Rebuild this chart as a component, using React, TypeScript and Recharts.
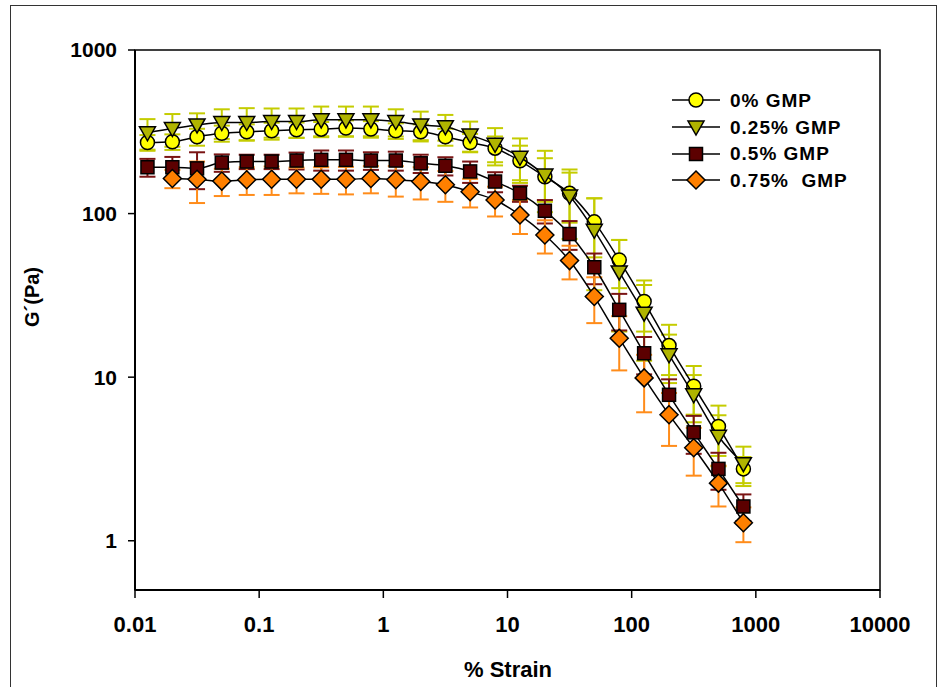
import React from 'react';
import { ScatterChart, Scatter, XAxis, YAxis, ErrorBar, ReferenceArea, Legend } from 'recharts';

const strain = [0.0126, 0.02, 0.0316, 0.05, 0.0794, 0.126, 0.2, 0.316, 0.5, 0.794, 1.26, 2, 3.16, 5, 7.94, 12.6, 20, 31.6, 50, 79.4, 126, 200, 316, 500, 794];

const gmp0 = [272, 275, 295, 310, 316, 321, 325, 328, 333, 329, 321, 316, 295, 272, 251, 210, 168, 133, 89, 52, 29, 15.6, 8.8, 5.0, 2.75];
const gmp0Err = [30, 30, 35, 35, 35, 38, 35, 35, 38, 38, 35, 35, 35, 35, 45, 50, 50, 45, 35, 17, 10, 5.3, 2.9, 1.7, 0.5];

const gmp025 = [312, 331, 348, 360, 360, 365, 365, 374, 374, 374, 365, 348, 340, 302, 265, 221, 172, 128, 79, 44, 24.6, 13.7, 7.8, 4.35, 2.96];
const gmp025Err = [66, 75, 62, 74, 81, 74, 74, 77, 77, 77, 69, 72, 61, 63, 68, 67, 70, 58, 45, 25, 12, 4.5, 2.5, 1.5, 0.8];

const gmp05 = [192, 192, 189, 205, 208, 208, 211, 213, 213, 211, 211, 203, 196, 181, 157, 133, 104, 75, 47, 25.8, 14.0, 7.8, 4.6, 2.75, 1.62];
const gmp05Err = [24, 30, 48, 25, 21, 21, 25, 30, 30, 26, 28, 26, 25, 27, 22, 15, 17, 15, 10, 6.5, 3.6, 1.9, 1.2, 0.7, 0.3];

const gmp075 = [null, 164, 162, 158, 161, 162, 162, 162, 162, 164, 161, 157, 150, 136, 121, 98, 74, 51.6, 31.1, 17.3, 9.9, 5.9, 3.7, 2.25, 1.29];
const gmp075Err = [null, 21, 46, 30, 31, 32, 29, 30, 31, 31, 34, 35, 32, 27, 25, 23, 17, 12, 9.7, 6.3, 3.8, 2.1, 1.2, 0.63, 0.31];

const xTicks = [0.01, 0.1, 1, 10, 100, 1000, 10000];
const xTickLabels = ['0.01', '0.1', '1', '10', '100', '1000', '10000'];
const yTicks = [1, 10, 100, 1000];
const yTickLabels = ['1', '10', '100', '1000'];
const seriesNames = ['0% GMP', '0.25% GMP', '0.5% GMP', '0.75%  GMP'];

const FONT = '"Liberation Sans", Arial, sans-serif';

function build(vals: (number | null)[], errs: (number | null)[]) {
  return strain
    .map((x, i) => ({ x, y: vals[i], err: errs[i] }))
    .filter((d) => d.y != null);
}

const data0 = build(gmp0, gmp0Err);
const data025 = build(gmp025, gmp025Err);
const data05 = build(gmp05, gmp05Err);
const data075 = build(gmp075, gmp075Err);

function drawMarker(kind: string, cx: number, cy: number) {
  if (kind === 'circle') {
    return <circle cx={cx} cy={cy} r={7} fill="#ffff00" stroke="#000" strokeWidth={1.5} />;
  }
  if (kind === 'triangle') {
    return (
      <polygon
        points={`${cx - 8},${cy - 6} ${cx + 8},${cy - 6} ${cx},${cy + 8}`}
        fill="#b0b400"
        stroke="#000"
        strokeWidth={1.5}
      />
    );
  }
  if (kind === 'square') {
    return <rect x={cx - 6.5} y={cy - 6.5} width={13} height={13} fill="#5c0000" stroke="#000" strokeWidth={1.5} />;
  }
  return (
    <polygon
      points={`${cx},${cy - 9} ${cx + 9},${cy} ${cx},${cy + 9} ${cx - 9},${cy}`}
      fill="#ff8000"
      stroke="#000"
      strokeWidth={1.5}
    />
  );
}

const shapeOf = (kind: string) => (p: any) => drawMarker(kind, p.cx, p.cy);

const markerKinds = ['circle', 'triangle', 'square', 'diamond'];

const LegendBox = () => (
  <div style={{ fontFamily: FONT }}>
    {seriesNames.map((name, i) => (
      <div key={name} style={{ display: 'flex', alignItems: 'center', height: 26.7 }}>
        <svg width={56} height={26} style={{ display: 'block' }}>
          <line x1={4} y1={13} x2={52} y2={13} stroke="#000" strokeWidth={1.5} />
          {drawMarker(markerKinds[i], 28, 13)}
        </svg>
        <span
          style={{
            marginLeft: 6,
            fontSize: 19,
            fontWeight: 'bold',
            letterSpacing: 1,
            whiteSpace: 'pre',
            color: '#000',
            lineHeight: 1,
          }}
        >
          {name}
        </span>
      </div>
    ))}
  </div>
);

const YLabel = (props: any) => (
  <text
    x={32}
    y={297}
    transform="rotate(-90 32 297)"
    textAnchor="middle"
    dominantBaseline="central"
    fontFamily={FONT}
    fontWeight="bold"
    fontSize={20}
    fill="#000"
  >
    G´(Pa)
  </text>
);

const XLabel = (props: any) => (
  <text x={508} y={677} textAnchor="middle" fontFamily={FONT} fontWeight="bold" fontSize={22} fill="#000">
    % Strain
  </text>
);

export default function App() {
  return (
    <div style={{ position: 'absolute', left: 0, top: 0, width: 943, height: 687, overflow: 'hidden', background: '#fff' }}>
      <div
        style={{
          position: 'absolute',
          left: 10,
          top: 5,
          width: 927,
          height: 760,
          border: '1.5px solid #333',
          boxSizing: 'border-box',
        }}
      />
      <div style={{ position: 'absolute', left: 0, top: 0 }}>
        <ScatterChart width={943} height={687} margin={{ top: 50, right: 63, left: 0, bottom: 0 }}>
          <XAxis
            dataKey="x"
            type="number"
            scale="log"
            domain={[0.01, 10000]}
            allowDataOverflow
            ticks={xTicks}
            tickFormatter={(v: number) => xTickLabels[xTicks.indexOf(v)] ?? String(v)}
            height={97}
            tickSize={8}
            tickMargin={18}
            axisLine={{ stroke: '#000', strokeWidth: 2 }}
            tickLine={{ stroke: '#000', strokeWidth: 1.5 }}
            tick={{ fill: '#000', fontSize: 22, fontWeight: 'bold', fontFamily: FONT }}
            label={{ content: XLabel }}
            interval={0}
          />
          <YAxis
            dataKey="y"
            type="number"
            scale="log"
            domain={[0.5, 1000]}
            allowDataOverflow
            ticks={yTicks}
            tickFormatter={(v: number) => yTickLabels[yTicks.indexOf(v)] ?? String(v)}
            width={135}
            tickSize={7}
            tickMargin={11}
            axisLine={{ stroke: '#000', strokeWidth: 2 }}
            tickLine={{ stroke: '#000', strokeWidth: 1.5 }}
            tick={{ fill: '#000', fontSize: 21, fontWeight: 'bold', fontFamily: FONT }}
            label={{ content: YLabel }}
            interval={0}
          />
          <ReferenceArea x1={0.01} x2={10000} y1={0.5} y2={1000} fill="none" stroke="#000" strokeWidth={1.5} ifOverflow="visible" />
          <Legend
            verticalAlign="middle"
            align="center"
            layout="vertical"
            wrapperStyle={{ position: 'absolute', left: 668, top: 87, width: 240, height: 110 }}
            content={() => <LegendBox />}
          />
          <Scatter
            name={seriesNames[0]}
            data={data0}
            shape={shapeOf('circle')}
            line={{ stroke: '#000', strokeWidth: 1.5 }}
            lineJointType="monotoneX"
            isAnimationActive={false}
          >
            <ErrorBar dataKey="err" direction="y" width={8} stroke="#c4cc00" strokeWidth={2} />
          </Scatter>
          <Scatter
            name={seriesNames[1]}
            data={data025}
            shape={shapeOf('triangle')}
            line={{ stroke: '#000', strokeWidth: 1.5 }}
            lineJointType="monotoneX"
            isAnimationActive={false}
          >
            <ErrorBar dataKey="err" direction="y" width={8} stroke="#c4cc00" strokeWidth={2} />
          </Scatter>
          <Scatter
            name={seriesNames[2]}
            data={data05}
            shape={shapeOf('square')}
            line={{ stroke: '#000', strokeWidth: 1.5 }}
            lineJointType="monotoneX"
            isAnimationActive={false}
          >
            <ErrorBar dataKey="err" direction="y" width={8} stroke="#7a1414" strokeWidth={2} />
          </Scatter>
          <Scatter
            name={seriesNames[3]}
            data={data075}
            shape={shapeOf('diamond')}
            line={{ stroke: '#000', strokeWidth: 1.5 }}
            lineJointType="monotoneX"
            isAnimationActive={false}
          >
            <ErrorBar dataKey="err" direction="y" width={8} stroke="#ff8c1a" strokeWidth={2} />
          </Scatter>
        </ScatterChart>
      </div>
    </div>
  );
}
